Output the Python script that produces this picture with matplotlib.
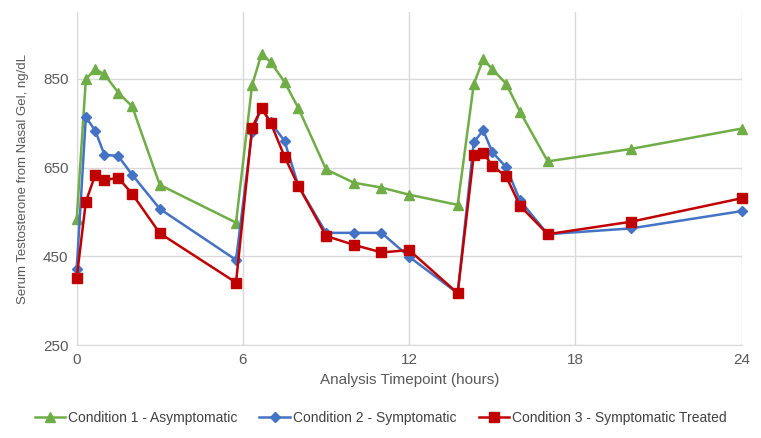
import matplotlib.pyplot as plt

# sampling times (hours)
hours = [0, 0.33, 0.67, 1, 1.5, 2, 3, 5.75,
         6.33, 6.67, 7, 7.5, 8, 9, 10, 11, 12,
         13.75, 14.33, 14.67, 15, 15.5, 16, 17, 20, 24]

asymptomatic = [534, 849, 872, 860, 819, 788, 611, 526,
                836, 906, 888, 843, 784, 646, 616, 605, 589,
                566, 838, 894, 872, 839, 776, 664, 692, 738]
symptomatic = [422, 764, 733, 679, 676, 634, 557, 442,
               731, 785, 752, 710, 609, 503, 503, 503, 449,
               367, 707, 734, 685, 651, 576, 500, 513, 552]
treated = [402, 573, 634, 622, 627, 591, 502, 391,
           740, 784, 751, 675, 609, 496, 476, 459, 464,
           367, 678, 684, 654, 630, 564, 500, 528, 581]

x_ticks = [0, 6, 12, 18, 24]
y_ticks = [250, 450, 650, 850]

plt.rcParams['font.family'] = ['Liberation Sans', 'DejaVu Sans']

fig = plt.figure(figsize=(7.61, 4.38), dpi=100)
ax = fig.add_axes([0.1008, 0.212, 0.8738, 0.760])

ax.plot(hours, asymptomatic, color='#70AD47', lw=1.8, marker='^', ms=7,
        label='Condition 1 - Asymptomatic', zorder=3, clip_on=False)
ax.plot(hours, symptomatic, color='#4472C4', lw=1.8, marker='D', ms=5,
        label='Condition 2 - Symptomatic', zorder=4, clip_on=False)
ax.plot(hours, treated, color='#C00000', lw=1.8, marker='s', ms=7,
        label='Condition 3 - Symptomatic Treated', zorder=5, clip_on=False)

ax.set_xlim(0, 24)
ax.set_ylim(250, 1000)
ax.set_xticks(x_ticks)
ax.set_yticks(y_ticks)
ax.grid(True, color='#D9D9D9', lw=1)
ax.set_axisbelow(True)
for side in ['top', 'right']:
    ax.spines[side].set_visible(False)
for side in ['left', 'bottom']:
    ax.spines[side].set_color('#D9D9D9')
ax.tick_params(length=0, labelsize=11, labelcolor='#595959', pad=6)

ax.set_xlabel('Analysis Timepoint (hours)', fontsize=11, color='#595959', labelpad=4)
ax.set_ylabel('Serum Testosterone from Nasal Gel, ng/dL', fontsize=9.5, color='#595959', labelpad=10)

fig.legend(loc='center', bbox_to_anchor=(0.5, 0.045), ncol=3, frameon=False,
           fontsize=10, labelcolor='#404040', handlelength=2.2, handletextpad=0.2,
           columnspacing=1.6)

plt.savefig('out.png')
